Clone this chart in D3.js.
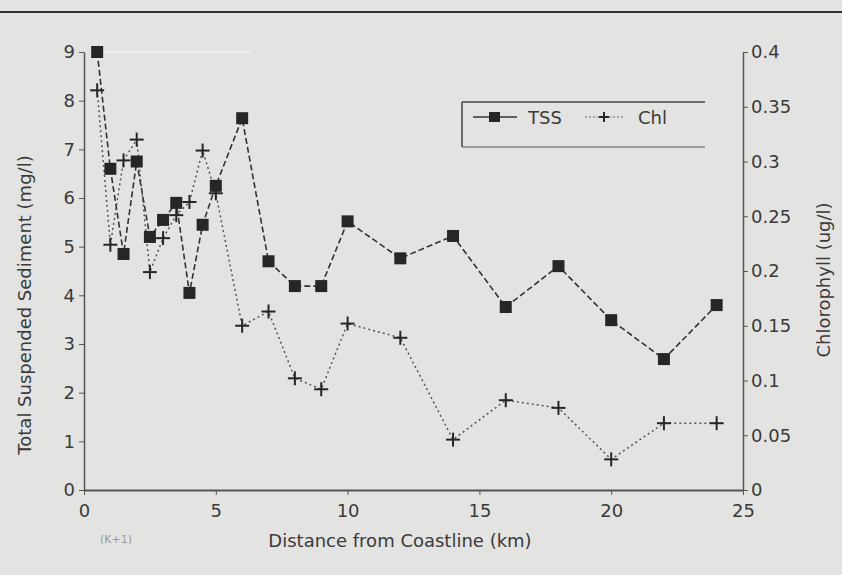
<!DOCTYPE html>
<html>
<head>
<meta charset="utf-8">
<script src="https://cdn.jsdelivr.net/npm/d3@7"></script>
<style>
  body { margin: 0; background: #e3e3e1; }
  svg { display: block; }
  .axis path, .axis line { stroke: #555; }
  .axis text { font-family: "DejaVu Sans", sans-serif; font-size: 18px; fill: #3a3a3a; }
</style>
</head>
<body>
<div id="chart"></div>
<script>
// distance from coastline (km)
const distance = [0.5, 1, 1.5, 2, 2.5, 3, 3.5, 4, 4.5, 5, 6, 7, 8, 9, 10, 12, 14, 16, 18, 20, 22, 24];
// total suspended sediment (mg/l)
const tss = [9.0, 6.6, 4.85, 6.75, 5.2, 5.55, 5.9, 4.05, 5.45, 6.25, 7.64, 4.7, 4.19, 4.19, 5.52, 4.76, 5.22, 3.76, 4.6, 3.49, 2.69, 3.8];
// chlorophyll (ug/l)
const chl = [0.365, 0.224, 0.301, 0.32, 0.199, 0.23, 0.251, 0.263, 0.31, 0.271, 0.15, 0.163, 0.102, 0.092, 0.152, 0.139, 0.046, 0.082, 0.075, 0.028, 0.061, 0.061];

const xTicks = [0, 5, 10, 15, 20, 25];
const leftTicks = [0, 1, 2, 3, 4, 5, 6, 7, 8, 9];
const rightTicks = [0, 0.05, 0.1, 0.15, 0.2, 0.25, 0.3, 0.35, 0.4];
const seriesNames = ["TSS", "Chl"];

const W = 842, H = 575;
const font = '"DejaVu Sans", sans-serif';

const svg = d3.select("#chart").append("svg")
  .attr("width", W).attr("height", H);

svg.append("rect").attr("width", W).attr("height", H).attr("fill", "#e3e3e1");
// scanned page rule at the top
svg.append("line").attr("x1", 0).attr("x2", W).attr("y1", 12).attr("y2", 12)
  .attr("stroke", "#333").attr("stroke-width", 2);

const x = d3.scaleLinear().domain([0, 25]).range([84, 743]);
const yL = d3.scaleLinear().domain([0, 9]).range([490, 52]);
const yR = d3.scaleLinear().domain([0, 0.4]).range([490, 52]);

// faint line at the top of the plot
svg.append("line").attr("x1", x(0.5)).attr("x2", 250).attr("y1", yL(9)).attr("y2", yL(9))
  .attr("stroke", "#efefed").attr("stroke-width", 2);

// axes
svg.append("g").attr("class", "axis")
  .attr("transform", `translate(0,${yL(0)})`)
  .call(d3.axisBottom(x).tickValues(xTicks).tickSize(5).tickSizeOuter(0).tickPadding(9))
  .call(g => g.select(".domain").attr("stroke-width", 2));

svg.append("g").attr("class", "axis")
  .attr("transform", `translate(${x(0)},0)`)
  .call(d3.axisLeft(yL).tickValues(leftTicks).tickSize(5).tickSizeOuter(0).tickPadding(4))
  .call(g => g.select(".domain").attr("stroke-width", 1.5));

svg.append("g").attr("class", "axis")
  .attr("transform", `translate(${x(25)},0)`)
  .call(d3.axisRight(yR).tickValues(rightTicks).tickSize(5).tickSizeOuter(0).tickPadding(3)
    .tickFormat(d => String(+d.toFixed(2))))
  .call(g => g.select(".domain").attr("stroke-width", 1.5));

// axis titles
svg.append("text")
  .attr("x", 400).attr("y", 547)
  .attr("text-anchor", "middle")
  .attr("font-family", font).attr("font-size", 18).attr("fill", "#3a3a3a")
  .text("Distance from Coastline (km)");

svg.append("text")
  .attr("transform", "translate(31,305) rotate(-90)")
  .attr("text-anchor", "middle")
  .attr("font-family", font).attr("font-size", 18).attr("fill", "#3a3a3a")
  .text("Total Suspended Sediment (mg/l)");

svg.append("text")
  .attr("transform", "translate(830,280) rotate(-90)")
  .attr("text-anchor", "middle")
  .attr("font-family", font).attr("font-size", 18).attr("fill", "#3a3a3a")
  .text("Chlorophyll (ug/l)");

svg.append("text")
  .attr("x", 100).attr("y", 543)
  .attr("font-family", font).attr("font-size", 11).attr("fill", "#9a9a9a")
  .text("(K+1)");

// lines
const pts = distance.map((d, i) => ({ d, tss: tss[i], chl: chl[i] }));

svg.append("path")
  .attr("d", d3.line().x(p => x(p.d)).y(p => yL(p.tss))(pts))
  .attr("fill", "none").attr("stroke", "#333").attr("stroke-width", 1.6)
  .attr("stroke-dasharray", "6,3");

svg.append("path")
  .attr("d", d3.line().x(p => x(p.d)).y(p => yR(p.chl))(pts))
  .attr("fill", "none").attr("stroke", "#555").attr("stroke-width", 1.5)
  .attr("stroke-dasharray", "2,3");

// markers
svg.selectAll(".sq").data(pts).join("rect")
  .attr("x", p => x(p.d) - 6).attr("y", p => yL(p.tss) - 6)
  .attr("width", 12).attr("height", 12)
  .attr("fill", "#262626");

const plus = svg.selectAll(".pl").data(pts).join("g")
  .attr("transform", p => `translate(${x(p.d)},${yR(p.chl)})`);
plus.append("line").attr("x1", -7).attr("x2", 7).attr("stroke", "#262626").attr("stroke-width", 2);
plus.append("line").attr("y1", -7).attr("y2", 7).attr("stroke", "#262626").attr("stroke-width", 2);

// legend
const lg = svg.append("g");
lg.append("line").attr("x1", 462).attr("x2", 705).attr("y1", 102).attr("y2", 102).attr("stroke", "#444").attr("stroke-width", 1.5);
lg.append("line").attr("x1", 462).attr("x2", 705).attr("y1", 147).attr("y2", 147).attr("stroke", "#555").attr("stroke-width", 1);
lg.append("line").attr("x1", 462).attr("x2", 462).attr("y1", 102).attr("y2", 147).attr("stroke", "#444").attr("stroke-width", 1.5);

lg.append("line").attr("x1", 473).attr("x2", 517).attr("y1", 117).attr("y2", 117).attr("stroke", "#333").attr("stroke-width", 1.5);
lg.append("rect").attr("x", 489).attr("y", 112).attr("width", 11).attr("height", 10).attr("fill", "#262626");
lg.append("text").attr("x", 528).attr("y", 124)
  .attr("font-family", font).attr("font-size", 18).attr("fill", "#3a3a3a").text(seriesNames[0]);

lg.append("line").attr("x1", 585).attr("x2", 625).attr("y1", 117).attr("y2", 117)
  .attr("stroke", "#666").attr("stroke-width", 1.2).attr("stroke-dasharray", "2,2");
lg.append("line").attr("x1", 599).attr("x2", 609).attr("y1", 117).attr("y2", 117).attr("stroke", "#262626").attr("stroke-width", 2);
lg.append("line").attr("x1", 604).attr("x2", 604).attr("y1", 112).attr("y2", 122).attr("stroke", "#262626").attr("stroke-width", 2);
lg.append("text").attr("x", 638).attr("y", 124)
  .attr("font-family", font).attr("font-size", 18).attr("fill", "#3a3a3a").text(seriesNames[1]);
</script>
</body>
</html>
